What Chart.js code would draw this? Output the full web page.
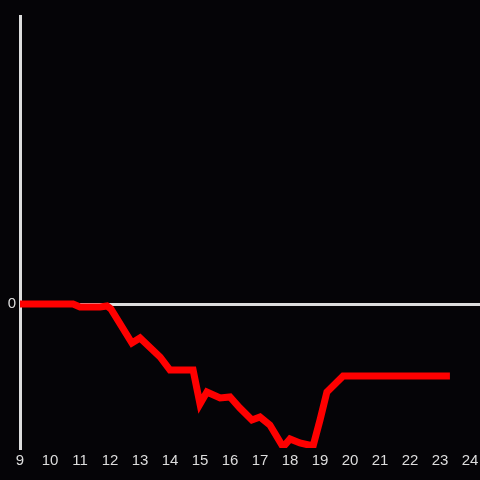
<!DOCTYPE html>
<html>
<head>
<meta charset="utf-8">
<script src="https://cdn.jsdelivr.net/npm/chart.js@4"></script>
<style>
  html, body { margin: 0; padding: 0; background: #050407; }
  #wrap { width: 480px; height: 480px; }
</style>
</head>
<body>
<div id="wrap"><canvas id="myChart" width="480" height="480"></canvas></div>
<script>
// hours of the day and the drawn value at each one
const hours = [9, 10.77, 11, 11.67, 11.9, 12.03, 12.73, 13, 13.67, 14, 14.77, 15, 15.23, 15.67, 16, 16.33,
  16.73, 17, 17.33, 17.77, 18, 18.33, 18.77, 19, 19.23, 19.77, 23.33];
const values = [0, 0, -3, -3, -2, -5, -39, -34, -53, -66, -66, -100, -88, -94, -93, -104,
  -116, -113, -121, -143, -135, -139, -142, -116, -88, -72, -72];
const xTicks = [9, 10, 11, 12, 13, 14, 15, 16, 17, 18, 19, 20, 21, 22, 23, 24];
const yTicks = [0];

const points = hours.map((h, i) => ({ x: h, y: values[i] }));

const ctx = document.getElementById('myChart').getContext('2d');
new Chart(ctx, {
    type: 'line',
    data: {
        datasets: [{
            data: points,
            borderColor: '#ff0000',
            borderWidth: 7,
            borderJoinStyle: 'miter',
            pointRadius: 0,
            tension: 0,
            fill: false
        }]
    },
    options: {
        responsive: false,
        animation: false,
        layout: { padding: { top: 16, right: 0, left: 0, bottom: 0 } },
        plugins: {
            legend: { display: false },
            tooltip: { enabled: false }
        },
        scales: {
            x: {
                type: 'linear',
                min: 9,
                max: 24.333,
                afterBuildTicks: (scale) => { scale.ticks = xTicks.map(v => ({ value: v })); },
                ticks: {
                    autoSkip: false,
                    maxRotation: 0,
                    minRotation: 0,
                    color: '#dddddd',
                    font: { size: 15, family: 'Liberation Sans' },
                    padding: 4
                },
                grid: { display: false, drawTicks: false },
                border: { display: false },
                afterFit: (scale) => {
                    scale.height = 32;
                    scale.paddingRight = 0;
                    scale.paddingLeft = 0;
                }
            },
            y: {
                min: -144,
                max: 288,
                afterBuildTicks: (scale) => { scale.ticks = yTicks.map(v => ({ value: v })); },
                ticks: {
                    color: '#dddddd',
                    font: { size: 15, family: 'Liberation Sans' },
                    padding: 4
                },
                grid: { color: '#dddddd', lineWidth: 3, drawTicks: false },
                border: { color: '#dddddd', width: 3 },
                afterFit: (scale) => { scale.width = 20; }
            }
        }
    }
});
</script>
</body>
</html>
